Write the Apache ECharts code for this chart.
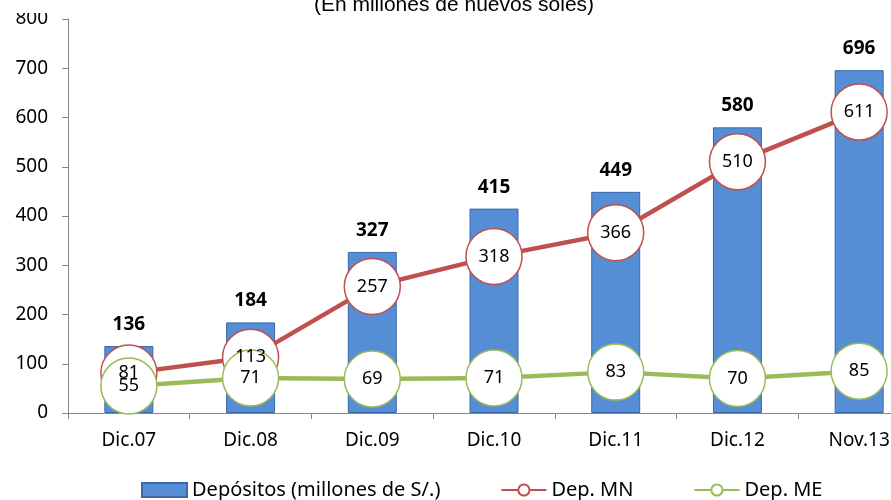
<!DOCTYPE html>
<html>
<head>
<meta charset="utf-8">
<script src="https://cdn.jsdelivr.net/npm/echarts@6/dist/echarts.min.js"></script>
<style>
html,body{margin:0;padding:0;background:#fff;overflow:hidden;}
#chart{width:920px;height:500px;}
</style>
</head>
<body>
<div id="chart"></div>
<script>
const categories = ['Dic.07','Dic.08','Dic.09','Dic.10','Dic.11','Dic.12','Nov.13'];
const depositos = [136,184,327,415,449,580,696];
const depMN = [81,113,257,318,366,510,611];
const depME = [55,71,69,71,83,70,85];
const yTicks = [0,100,200,300,400,500,600,700,800];

const FONT = 'Noto Sans';
const chart = echarts.init(document.getElementById('chart'), null, {renderer:'canvas'});
const option = {
  animation:false,
  backgroundColor:'#fff',
  title:{
    text:'(En millones de nuevos soles)',
    left:449, textAlign:'center', top:-10,
    textStyle:{fontFamily:'Liberation Sans', fontSize:21, fontWeight:'normal', color:'#000'}
  },
  legend:{
    left:136, top:475,
    itemWidth:45, itemHeight:14, itemGap:60,
    textStyle:{fontFamily:FONT, fontSize:20, color:'#000'},
    data:[
      {name:'Depósitos (millones de S/.)', icon:'rect'},
      {name:'Dep. MN'},
      {name:'Dep. ME'}
    ]
  },
  grid:{left:68, top:19, width:852, height:394},
  xAxis:{
    type:'category', data:categories,
    axisLine:{lineStyle:{color:'#868686', width:1}},
    axisTick:{show:true, length:6, lineStyle:{color:'#868686'}},
    axisLabel:{fontFamily:FONT, fontSize:19, color:'#000', margin:18}
  },
  yAxis:{
    type:'value', min:yTicks[0], max:yTicks[yTicks.length-1], interval:100,
    splitLine:{show:false},
    axisLine:{show:true, lineStyle:{color:'#868686', width:1}},
    axisTick:{show:true, length:6, lineStyle:{color:'#868686'}},
    axisLabel:{fontFamily:FONT, fontSize:19, color:'#000', margin:20}
  },
  graphic:[
    {type:'rect', left:0, top:0, shape:{width:60, height:13}, style:{fill:'#fff'}, z:100}
  ],
  series:[
    {
      name:'Depósitos (millones de S/.)', type:'bar', data:depositos,
      barWidth:49,
      itemStyle:{color:'#558ed5', borderColor:'#3a68a8', borderWidth:1},
      label:{show:true, position:'top', distance:12, fontFamily:FONT, fontSize:19, fontWeight:'bold', color:'#000'}
    },
    {
      name:'Dep. MN', type:'line', data:depMN,
      symbol:'circle', symbolSize:56,
      lineStyle:{color:'#c0504d', width:4.5},
      itemStyle:{color:'#fff', borderColor:'#c0504d', borderWidth:1.5},
      label:{show:true, position:'inside', fontFamily:FONT, fontSize:18, color:'#000'}
    },
    {
      name:'Dep. ME', type:'line', data:depME,
      symbol:'circle', symbolSize:56,
      lineStyle:{color:'#9bbb59', width:4.5},
      itemStyle:{color:'#fff', borderColor:'#9bbb59', borderWidth:1.5},
      label:{show:true, position:'inside', fontFamily:FONT, fontSize:18, color:'#000'}
    }
  ]
};
chart.setOption(option);
</script>
</body>
</html>
